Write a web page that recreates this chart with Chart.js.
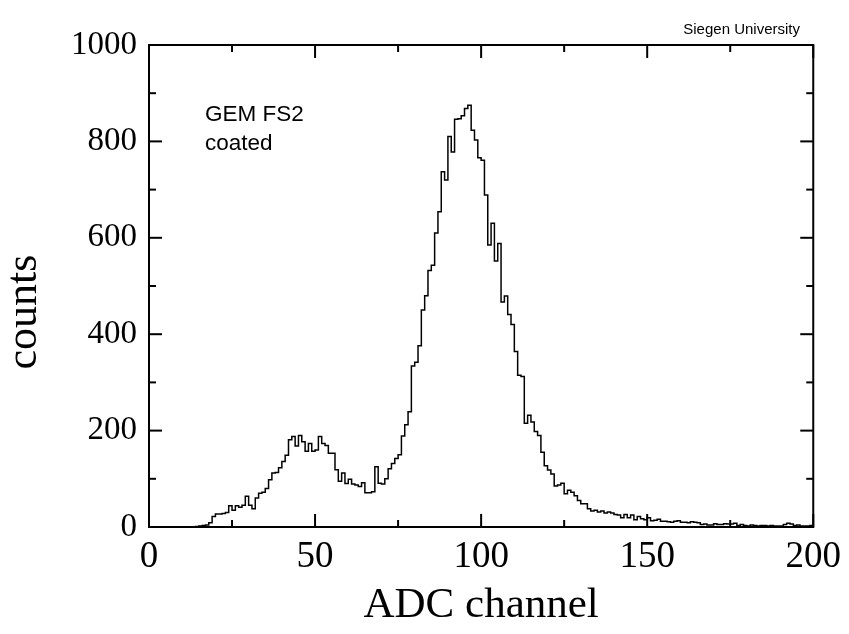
<!DOCTYPE html>
<html>
<head>
<meta charset="utf-8">
<script src="https://cdn.jsdelivr.net/npm/chart.js@4/dist/chart.umd.min.js"></script>
<style>
  html, body { margin: 0; padding: 0; background: #fff; }
  #wrap { width: 849px; height: 634px; }
</style>
</head>
<body>
<div id="wrap"><canvas id="c" width="849" height="634"></canvas></div>
<script>
// Histogram: counts per ADC channel bin [c, c+1), c = 0..199
const channels = Array.from({ length: 200 }, (_, i) => i);
const counts = [
  0, 0, 0, 0, 0, 0, 0, 0, 0, 0,            // 0-9
  0, 0, 0, 0, 1, 2, 3, 4, 9, 22,           // 10-19
  27, 27, 28, 30, 44, 35, 44, 41, 45, 64,  // 20-29
  45, 38, 60, 70, 72, 80, 98, 112, 113, 123, // 30-39
  136, 149, 181, 188, 168, 190, 177, 157, 173, 157, // 40-49
  160, 188, 173, 169, 153, 153, 119, 95, 112, 90,   // 50-59
  99, 89, 87, 84, 92, 71, 71, 73, 125, 91,          // 60-69
  89, 100, 121, 132, 142, 150, 189, 212, 239, 334,  // 70-79
  342, 376, 450, 480, 532, 543, 610, 654, 737, 720, // 80-89
  810, 778, 846, 847, 853, 868, 875, 823, 803, 766, // 90-99
  761, 689, 585, 630, 552, 588, 467, 479, 441, 420, // 100-109
  364, 315, 312, 215, 232, 218, 198, 190, 155, 127, // 110-119
  118, 110, 85, 87, 91, 69, 76, 72, 65, 55,         // 120-129
  48, 48, 38, 33, 35, 31, 33, 29, 31, 29,           // 130-139
  26, 25, 19, 26, 19, 25, 15, 22, 17, 15,           // 140-149
  19, 13, 14, 16, 12, 12, 11, 10, 12, 13,           // 150-159
  10, 10, 9, 11, 10, 9, 5, 6, 4, 4,                 // 160-169
  7, 5, 5, 7, 6, 6, 8, 3, 5, 3,                     // 170-179
  2, 4, 3, 2, 3, 3, 2, 3, 2, 2,                     // 180-189
  2, 5, 8, 6, 3, 4, 2, 2, 2, 3                      // 190-199
];
const xTicks = [0, 50, 100, 150, 200];
const yTicks = [0, 200, 400, 600, 800, 1000];
const xMinorTicks = [25, 75, 125, 175];
const yMinorTicks = [100, 300, 500, 700, 900];
const xTitle = 'ADC channel';
const yTitle = 'counts';
const labelLines = ['GEM FS2', 'coated'];
const creditText = 'Siegen University';

// build stepped points: each point starts a bin; a final point closes the last bin
const points = channels.map((c, i) => ({ x: c, y: counts[i] }));
points.push({ x: channels[channels.length - 1] + 1, y: counts[counts.length - 1] });

const SERIF = '"Liberation Serif", "Times New Roman", serif';
const SANS = '"Liberation Sans", Arial, sans-serif';

const frameAndTicks = {
  id: 'frameAndTicks',
  afterDraw(chart) {
    const { ctx, chartArea: { left, right, top, bottom }, scales: { x, y } } = chart;
    ctx.save();
    ctx.strokeStyle = '#000';
    ctx.lineWidth = 2;
    ctx.strokeRect(left, top, right - left, bottom - top);
    const seg = (x1, y1, x2, y2) => { ctx.beginPath(); ctx.moveTo(x1, y1); ctx.lineTo(x2, y2); ctx.stroke(); };
    const majorLen = 13, minorLen = 7;
    xTicks.forEach(v => { const p = x.getPixelForValue(v); seg(p, bottom, p, bottom - majorLen); seg(p, top, p, top + majorLen); });
    xMinorTicks.forEach(v => { const p = x.getPixelForValue(v); seg(p, bottom, p, bottom - minorLen); seg(p, top, p, top + minorLen); });
    yTicks.forEach(v => { const p = y.getPixelForValue(v); seg(left, p, left + majorLen, p); seg(right, p, right - majorLen, p); });
    yMinorTicks.forEach(v => { const p = y.getPixelForValue(v); seg(left, p, left + minorLen, p); seg(right, p, right - minorLen, p); });

    ctx.fillStyle = '#000';
    ctx.textBaseline = 'alphabetic';
    ctx.textAlign = 'left';
    ctx.font = '22.5px ' + SANS;
    ctx.fillText(labelLines[0], 205, 121);
    ctx.fillText(labelLines[1], 205, 150);
    ctx.textAlign = 'right';
    ctx.font = '15px ' + SANS;
    ctx.fillText(creditText, 800, 34);

    // y axis title
    ctx.save();
    ctx.translate(24, 312);
    ctx.rotate(-Math.PI / 2);
    ctx.textAlign = 'center';
    ctx.textBaseline = 'middle';
    ctx.font = '44px ' + SERIF;
    ctx.fillText(yTitle, 0, 0);
    ctx.restore();
    ctx.restore();
  }
};

new Chart(document.getElementById('c'), {
  type: 'line',
  data: {
    datasets: [{
      data: points,
      stepped: true,
      borderColor: '#000',
      borderWidth: 1.5,
      pointRadius: 0,
      fill: false,
      tension: 0
    }]
  },
  options: {
    responsive: false,
    animation: false,
    devicePixelRatio: 1,
    layout: { padding: { top: 45, right: 32, left: 0, bottom: 0 } },
    plugins: { legend: { display: false }, tooltip: { enabled: false }, title: { display: false } },
    scales: {
      x: {
        type: 'linear',
        min: 0, max: 200,
        afterBuildTicks: s => { s.ticks = xTicks.map(v => ({ value: v })); },
        grid: { display: false, drawTicks: false },
        border: { display: false },
        ticks: {
          color: '#000', padding: 8, maxRotation: 0, autoSkip: false,
          callback: v => String(v),
          font: { family: SERIF, size: 37, lineHeight: 1.2 }
        },
        title: {
          display: true, text: xTitle, color: '#000',
          font: { family: SERIF, size: 43, lineHeight: 1 },
          padding: { top: 0, bottom: 7 }
        },
        afterFit: s => { s.height = 107; }
      },
      y: {
        type: 'linear',
        min: 0, max: 1000,
        afterBuildTicks: s => { s.ticks = yTicks.map(v => ({ value: v })); },
        grid: { display: false, drawTicks: false },
        border: { display: false },
        ticks: {
          color: '#000', padding: 12, autoSkip: false,
          callback: v => String(v),
          font: { family: SERIF, size: 33, lineHeight: 1.2 }
        },
        title: { display: false },
        afterFit: s => { s.width = 149; }
      }
    }
  },
  plugins: [frameAndTicks]
});
</script>
</body>
</html>
